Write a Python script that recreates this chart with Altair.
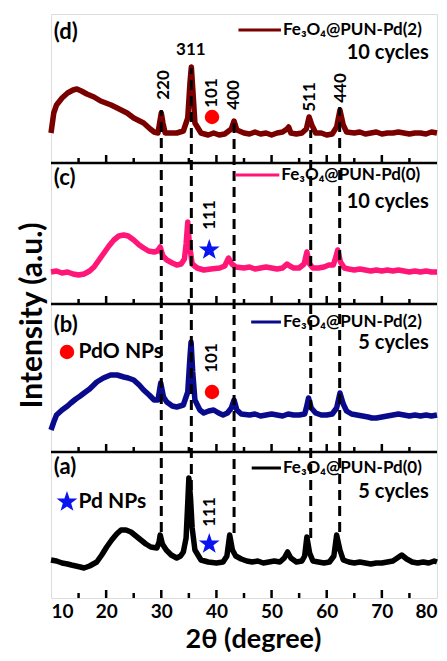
import altair as alt
import pandas as pd

FONT = "Lato"

# ---- XRD curves (2theta, intensity above panel baseline, a.u.) ----
d_x = [10, 10.5, 11, 12, 13, 14, 14.7, 15.5, 16.5, 17.8, 19, 20.9, 22, 23.8, 25, 26.8, 28, 28.7, 29.4, 29.7, 30.0, 30.3, 30.7,
       32, 32.8, 34, 34.8, 35.2, 35.45, 35.7, 36.1, 37.2, 38.5, 39.5, 40.5, 41.5, 42.7, 43.2, 43.7, 45, 46, 47, 48, 49, 50,
       51, 52, 52.8, 53.1, 53.5, 54.5, 55.5, 56.3, 56.8, 57.3, 58, 59, 60, 61, 61.8, 62.4, 63, 63.6, 65, 66, 67, 68, 69, 70,
       71, 72, 73, 74, 75, 76, 77, 78, 79, 80]
d_y = [30, 50, 58, 65, 70, 73, 74, 72, 69, 66, 62, 58, 55, 50, 45, 40, 34, 31, 30, 40, 50, 40, 30,
       30, 30, 32, 45, 80, 96, 75, 40, 30, 28, 30, 28, 29, 34, 42, 33, 30, 29, 31, 29, 30, 28,
       30, 31, 34, 36, 30, 29, 30, 34, 46, 38, 30, 30, 28, 29, 36, 53, 38, 31, 30, 31, 29, 30, 31, 29,
       30, 30, 31, 30, 29, 30, 30, 29, 31, 30]

c_x = [10, 11, 12, 13, 14, 15, 16, 17, 17.8, 18.7, 19.6, 20.5, 21.4, 22.3, 23.2, 24, 25, 26, 26.8, 27.7, 28.7, 29.3, 29.8,
       30.3, 31, 32, 32.8, 33.6, 34.2, 34.5, 34.8, 35.1, 35.6, 36.5, 37.7, 39, 40.6, 41.5, 42.2, 42.8, 43.5, 45, 46, 47, 48,
       49, 50, 51, 52, 52.8, 53.3, 54, 55, 55.9, 56.4, 56.9, 57.5, 58.5, 59.5, 60.4, 61.2, 61.6, 62, 62.5, 63.2, 64, 65, 66,
       67, 68, 69, 70, 71, 72, 73, 74, 75, 76, 77, 78, 79, 80]
c_y = [32, 33, 31, 32, 30, 29, 30, 33, 37, 44, 51, 58, 64, 68, 69, 68, 64, 59, 56, 53, 52, 53, 57,
       48, 44, 41, 39, 40, 45, 60, 82, 60, 40, 36, 34, 35, 36, 38, 46, 40, 37, 36, 37, 35, 36,
       37, 36, 35, 36, 40, 38, 36, 36, 40, 52, 40, 36, 36, 37, 39, 39, 46, 54, 42, 36, 35, 34, 35,
       34, 33, 34, 33, 34, 33, 34, 33, 32, 33, 32, 33, 32, 32]

b_x = [10, 10.5, 11, 12, 13, 13.6, 14.5, 15.3, 16, 17, 18.3, 19.5, 20.8, 22, 23.2, 24, 25, 26, 26.8, 27.8, 28.7, 29.4,
       29.9, 30.4, 31, 32, 32.8, 34, 34.8, 35.2, 35.4, 35.7, 36.1, 37, 37.7, 38.6, 39.5, 40.4, 41.2, 42, 42.7, 43.2, 43.7,
       44.5, 46, 47, 48, 49, 50, 51, 52, 53, 54, 55, 56, 56.3, 56.7, 57.2, 58, 59, 60, 61, 61.8, 62.4, 63, 63.6, 64.5,
       65.5, 66.5, 67.5, 68.2, 69, 70, 71, 72, 73, 74, 75, 76, 77, 78, 79, 80]
b_y = [22, 30, 37, 42, 46, 49, 53, 56, 59, 63, 70, 74, 77, 77, 75, 74, 72, 67, 62, 57, 52, 52,
       69, 55, 50, 46, 45, 47, 60, 95, 110, 80, 52, 42, 39, 41, 42, 39, 37, 39, 44, 52, 42,
       38, 37, 38, 36, 37, 38, 37, 36, 38, 37, 37, 38, 44, 54, 44, 39, 37, 37, 38, 44, 59, 48, 41, 38,
       37, 36, 35, 34, 34, 35, 36, 37, 38, 37, 36, 37, 36, 37, 36, 37]

a_x = [10, 11, 12, 13, 13.7, 14.5, 15.3, 16, 17, 18.3, 19.2, 20.1, 21, 21.9, 22.7, 23.6, 24.5, 25.4, 26.3, 27.2, 28.1,
       29.2, 29.6, 29.8, 30.2, 30.9, 31.8, 32.8, 33.5, 34, 34.5, 34.8, 35.0, 35.3, 35.6, 36.1, 37.2, 38.5, 40, 41.2, 41.9,
       42.4, 42.9, 43.5, 44.5, 45.5, 46.5, 47.5, 48.5, 49.5, 50.5, 51.5, 52.3, 52.9, 53.5, 54.5, 55.5, 56, 56.4, 56.9, 57.5,
       58.5, 59.5, 60.5, 61.3, 61.8, 62.4, 63, 64, 65, 66, 67, 68, 69, 70, 71, 72, 72.8, 73.6, 74.5, 75.5, 76.5, 77.5,
       78.5, 79.5, 80]
a_y = [38, 37, 35, 34, 33, 32, 31, 30, 32, 36, 43, 51, 58, 64, 68, 68, 66, 62, 58, 54, 51,
       50, 56, 63, 54, 48, 43, 40, 42, 46, 60, 95, 120, 100, 70, 48, 38, 36, 35, 36, 42,
       63, 48, 42, 39, 37, 36, 37, 35, 36, 37, 36, 40, 46, 40, 36, 37, 42, 61, 45, 37,
       36, 35, 36, 42, 63, 48, 38, 36, 35, 36, 35, 34, 35, 35, 36, 37, 40, 43, 39, 36, 35, 36,
       35, 37, 36]

series_names = ["Fe₃O₄@PUN-Pd(0) a", "Fe₃O₄@PUN-Pd(2) b", "Fe₃O₄@PUN-Pd(0) c", "Fe₃O₄@PUN-Pd(2) d"]
legend_labels = ["Fe₃O₄@PUN-Pd(0)", "Fe₃O₄@PUN-Pd(2)", "Fe₃O₄@PUN-Pd(0)", "Fe₃O₄@PUN-Pd(2)"]
cycle_labels = ["5 cycles", "5 cycles", "10 cycles", "10 cycles"]
panel_tags = ["(a)", "(b)", "(c)", "(d)"]
colors = ["#000000", "#0a0a8c", "#ff1676", "#7a0000"]
panel_bottoms = [0, 146, 294, 435]
panel_top = 584

# dashed reference lines (Fe3O4 reflections)
ref_x = [30.0, 35.45, 43.2, 57.1, 62.35]
ref_y1 = [66, 108, 65, 60, 66]
ref_y2 = [488, 530, 476, 468, 491]

# hkl labels
hkl_text = ["220", "101", "400", "511", "440", "111", "101", "111"]
hkl_x = [30.47, 39.17, 43.15, 56.92, 62.54, 38.8, 39.17, 38.8]
hkl_y = [513, 505, 503, 501, 510, 383, 240, 86]
top_text = ["311"]
top_x = [35.36]
top_y = [548]

# markers
circle_x = [39.2, 39.2, 12.9]
circle_y = [481, 206, 246]
star_x = [38.7, 38.7, 12.9]
star_y = [348, 54, 96]
np_text = ["PdO NPs", "Pd NPs"]
np_x = [15.0, 15.0]
np_y = [246, 96]

x_ticks = [10, 20, 30, 40, 50, 60, 70, 80]

STAR = ("M0,-1L0.235,-0.324L0.951,-0.309L0.380,0.124L0.588,0.809L0,0.4"
        "L-0.588,0.809L-0.380,0.124L-0.951,-0.309L-0.235,-0.324Z")

# ---- build tables ----
rows = []
for name, xs_, ys_, base in zip(series_names, [a_x, b_x, c_x, d_x], [a_y, b_y, c_y, d_y], panel_bottoms):
    for i, (xv, yv) in enumerate(zip(xs_, ys_)):
        rows.append({"series": name, "x": xv, "y": base + yv, "i": i})
curves = pd.DataFrame(rows)

W, H = 386, 584
xs = alt.Scale(domain=[10, 80], nice=False, zero=False)
ys = alt.Scale(domain=[0, panel_top], nice=False, zero=False)
color_scale = alt.Scale(domain=series_names, range=colors)

lines = alt.Chart(curves).mark_line(strokeWidth=5.5, strokeJoin="round").encode(
    x=alt.X("x:Q", scale=xs, axis=alt.Axis(values=x_ticks, title="2θ (degree)", ticks=False, domain=False,
                                           labelFont=FONT, labelFontSize=19, labelFontWeight="bold",
                                           labelColor="black", labelPadding=4, grid=False,
                                           titleFont=FONT, titleFontSize=27, titleFontWeight="bold",
                                           titleColor="black", titleBaseline="alphabetic",
                                           titleX=202, titleY=49)),
    y=alt.Y("y:Q", scale=ys, axis=alt.Axis(title="Intensity (a.u.)", labels=False, ticks=False, domain=False,
                                           grid=False, titleFont=FONT, titleFontSize=30, titleFontWeight="bold",
                                           titleColor="black", titlePadding=4, titleY=301)),
    color=alt.Color("series:N", scale=color_scale, legend=None),
    order="i:Q",
)

ref = pd.DataFrame({"x": ref_x, "y1": ref_y1, "y2": ref_y2})
dashes = alt.Chart(ref).mark_rule(color="black", strokeWidth=3, strokeDash=[10, 6]).encode(
    x=alt.X("x:Q", scale=xs), y=alt.Y("y1:Q", scale=ys), y2="y2:Q")

sep = pd.DataFrame({"y": panel_bottoms[1:]})
separators = alt.Chart(sep).mark_rule(color="black", strokeWidth=2.5).encode(
    y=alt.Y("y:Q", scale=ys), x=alt.datum(10), x2=alt.datum(80))

tick_rows = []
for b in panel_bottoms:
    for t in range(15, 80, 5):
        tick_rows.append({"x": t, "y": b, "y2": b + (8 if t % 10 == 0 else 5)})
ticks = alt.Chart(pd.DataFrame(tick_rows)).mark_rule(color="black", strokeWidth=2.5).encode(
    x=alt.X("x:Q", scale=xs), y=alt.Y("y:Q", scale=ys), y2="y2:Q")

leg = pd.DataFrame({
    "series": series_names,
    "label": legend_labels,
    "cyc": cycle_labels,
    "tag": panel_tags,
    "x1": [46.4, 46.3, 43.4, 44.0],
    "x2": [51.7, 51.7, 51.4, 51.7],
    "ly": [130, 276, 423, 568],
    "cy": [106, 255, 396, 545],
    "ty": [131, 273, 420, 566],
})
leg_lines = alt.Chart(leg).mark_rule(strokeWidth=3).encode(
    x=alt.X("x1:Q", scale=xs), x2="x2:Q", y=alt.Y("ly:Q", scale=ys),
    color=alt.Color("series:N", scale=color_scale, legend=None))
leg_text = alt.Chart(leg).mark_text(align="left", baseline="middle", font=FONT, fontSize=17,
                                    fontWeight="bold", color="black", dx=2).encode(
    x=alt.X("x2:Q", scale=xs), y=alt.Y("ly:Q", scale=ys), text="label:N")
cyc_text = alt.Chart(leg).mark_text(align="right", baseline="middle", font=FONT, fontSize=20,
                                    fontWeight="bold", color="black").encode(
    x=alt.datum(78.5), y=alt.Y("cy:Q", scale=ys), text="cyc:N")
tag_text = alt.Chart(leg).mark_text(align="left", baseline="middle", font=FONT, fontSize=22,
                                    fontWeight="bold", color="black").encode(
    x=alt.datum(10.5), y=alt.Y("ty:Q", scale=ys), text="tag:N")

hkl = pd.DataFrame({"t": hkl_text, "x": hkl_x, "y": hkl_y})
hkl_marks = alt.Chart(hkl).mark_text(angle=270, align="center", baseline="middle", font=FONT, fontSize=17,
                                     fontWeight="bold", color="black").encode(
    x=alt.X("x:Q", scale=xs), y=alt.Y("y:Q", scale=ys), text="t:N")
top = pd.DataFrame({"t": top_text, "x": top_x, "y": top_y})
top_marks = alt.Chart(top).mark_text(align="center", baseline="middle", font=FONT, fontSize=17,
                                     fontWeight="bold", color="black").encode(
    x=alt.X("x:Q", scale=xs), y=alt.Y("y:Q", scale=ys), text="t:N")

circ = pd.DataFrame({"x": circle_x, "y": circle_y})
circles = alt.Chart(circ).mark_point(shape="circle", filled=True, color="#ff0000", size=210, opacity=1).encode(
    x=alt.X("x:Q", scale=xs), y=alt.Y("y:Q", scale=ys))
st = pd.DataFrame({"x": star_x, "y": star_y})
stars = alt.Chart(st).mark_point(shape=STAR, filled=True, color="#0a14f0", size=480, opacity=1).encode(
    x=alt.X("x:Q", scale=xs), y=alt.Y("y:Q", scale=ys))
npt = pd.DataFrame({"t": np_text, "x": np_x, "y": np_y})
np_marks = alt.Chart(npt).mark_text(align="left", baseline="middle", font=FONT, fontSize=21,
                                    fontWeight="bold", color="black").encode(
    x=alt.X("x:Q", scale=xs), y=alt.Y("y:Q", scale=ys), text="t:N")

chart = alt.layer(
    lines, dashes, separators, ticks, leg_lines, leg_text, cyc_text, tag_text,
    hkl_marks, top_marks, circles, stars, np_marks
).properties(
    width=W, height=H,
    autosize=alt.AutoSizeParams(type="none"),
    padding={"left": 43, "top": 6, "right": 2, "bottom": 55},
).configure_view(stroke="black", strokeWidth=2.5).configure(background="white")

chart.save("out.html", embed_options={"renderer": "svg", "actions": False})
